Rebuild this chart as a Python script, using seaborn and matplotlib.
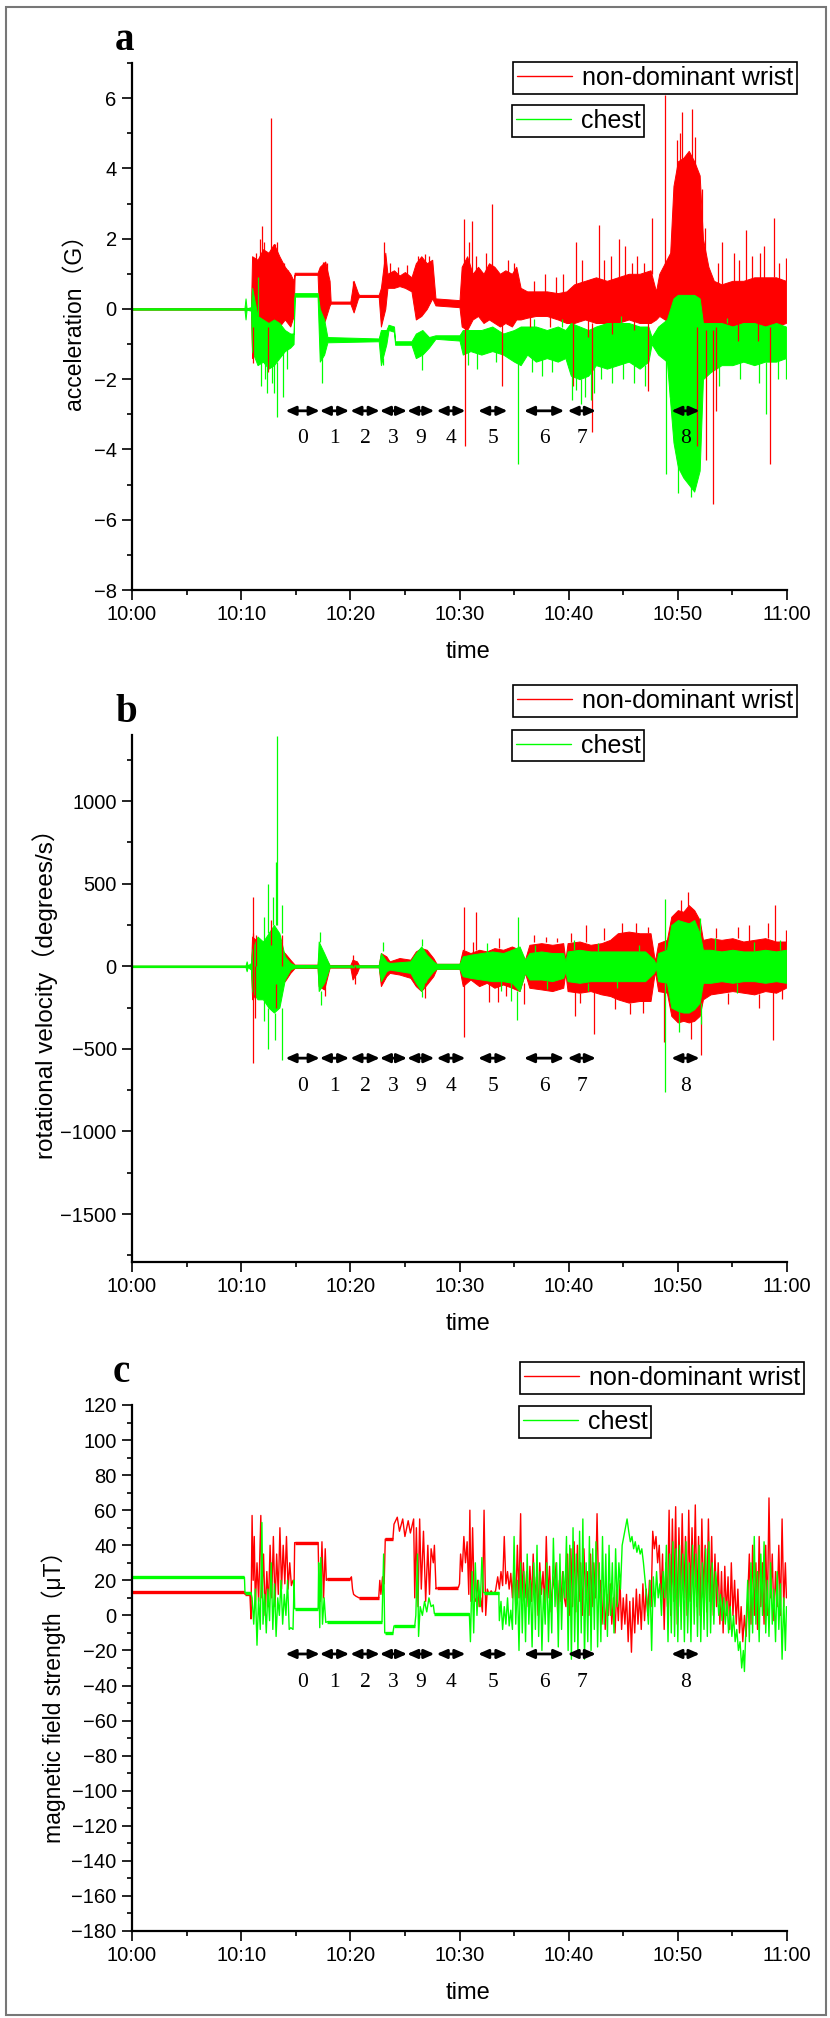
import numpy as np
import seaborn as sns
import matplotlib.pyplot as plt
from matplotlib import font_manager as fm
from matplotlib.lines import Line2D
from matplotlib.patches import Rectangle
from matplotlib.ticker import MultipleLocator

# ---- data (time = minutes after 10:00) ----
tick_minutes = [0, 10, 20, 30, 40, 50, 60]
tick_labels = ["10:00", "10:10", "10:20", "10:30", "10:40", "10:50", "11:00"]

# activity segments shown by the double arrows
seg_start = [14.06, 17.2, 20.0, 22.7, 25.2, 27.9, 31.7, 35.9, 39.9, 49.4]
seg_end = [17.2, 19.9, 22.7, 25.2, 27.7, 30.55, 34.4, 39.6, 42.5, 52.0]
seg_label = ["0", "1", "2", "3", "9", "4", "5", "6", "7", "8"]

# acceleration (G): envelope of the signal (t, upper, lower)
acc_wrist = [
    (0, 0.02, -0.02), (10.9, 0.02, -0.02), (11.0, 1.5, -1.4), (11.5, 1.4, -0.8),
    (12.0, 1.7, -0.4), (12.5, 1.6, -0.6), (13.0, 1.85, -0.7), (13.5, 1.5, -0.5),
    (14.0, 1.2, -0.3), (14.5, 1.0, -0.5), (14.8, 0.8, -0.2), (14.9, 1.03, 0.97),
    (17.0, 1.03, 0.97), (17.2, 1.2, -0.7), (17.7, 1.35, -0.3), (18.1, 0.8, 0.1),
    (18.2, 0.21, 0.15), (20.0, 0.21, 0.15), (20.3, 0.8, -0.1), (20.7, 0.45, 0.3),
    (20.8, 0.40, 0.34), (22.6, 0.40, 0.34), (22.8, 0.6, -0.5), (23.2, 1.6, 0.0),
    (23.4, 1.0, 0.6), (24.0, 1.1, 0.6), (24.5, 0.95, 0.65), (25.0, 1.05, 0.6),
    (25.6, 0.9, 0.5), (26.0, 1.3, -0.3), (26.5, 1.5, -0.2), (27.0, 1.3, 0.0),
    (27.5, 1.4, 0.3), (27.8, 0.3, 0.1), (30.0, 0.25, 0.05), (30.2, 1.2, -0.5),
    (30.7, 1.5, -0.6), (31.2, 1.0, -0.3), (31.7, 1.2, -0.2), (32.2, 1.0, -0.4),
    (32.7, 1.3, -0.3), (33.2, 1.2, -0.4), (33.7, 1.0, -0.5), (34.2, 1.1, -0.4),
    (34.8, 1.0, -0.5), (35.2, 1.2, -0.3), (35.6, 0.6, -0.3), (36.2, 0.5, -0.25),
    (37.0, 0.5, -0.2), (38.0, 0.5, -0.2), (39.0, 0.45, -0.3), (39.8, 0.5, -0.4),
    (40.5, 0.7, -0.4), (41.5, 0.8, -0.3), (42.5, 0.9, -0.4), (43.5, 0.8, -0.4),
    (44.5, 0.9, -0.4), (45.5, 1.0, -0.3), (46.5, 1.0, -0.4), (47.5, 1.1, -0.4),
    (48.0, 0.5, -0.3), (48.3, 1.0, -0.2), (48.8, 1.3, -0.3), (49.3, 1.6, -0.4),
    (49.6, 3.5, -0.3), (50.0, 4.2, -0.4), (50.5, 4.3, -0.5), (51.0, 4.5, -0.5),
    (51.5, 4.2, -0.5), (52.0, 3.8, -0.6), (52.3, 2.0, -0.8), (52.8, 1.2, -0.8),
    (53.3, 0.8, -0.6), (54.0, 0.7, -0.5), (55.0, 0.8, -0.5), (56.0, 0.8, -0.4),
    (57.0, 0.9, -0.5), (58.0, 0.9, -0.5), (59.0, 0.9, -0.5), (59.9, 0.8, -0.4),
]
acc_chest = [
    (0, 0.02, -0.02), (10.3, 0.02, -0.02), (10.4, 0.3, -0.3), (10.5, 0.02, -0.02),
    (10.9, 0.05, -0.05), (11.0, 0.6, -1.2), (11.5, -0.2, -1.6), (12.0, -0.3, -1.5),
    (12.5, -0.4, -1.7), (13.0, -0.3, -1.6), (13.5, -0.4, -1.4), (14.0, -0.6, -1.2),
    (14.5, -0.7, -1.1), (14.8, -0.7, -1.0), (14.9, 0.45, 0.35), (17.0, 0.45, 0.35),
    (17.2, 0.0, -1.5), (17.6, -0.3, -1.3), (17.9, -0.8, -0.95), (22.6, -0.84, -0.92),
    (22.8, -0.6, -1.6), (23.3, -0.6, -1.0), (23.5, -0.45, -0.6), (24.0, -0.5, -0.65),
    (24.1, -0.92, -1.02), (25.6, -0.92, -1.02), (26.0, -0.7, -1.4), (26.6, -0.6, -1.3),
    (27.2, -0.8, -1.1), (27.8, -0.75, -0.85), (30.0, -0.75, -0.9), (30.3, -0.6, -1.3),
    (31.0, -0.6, -1.2), (32.0, -0.6, -1.3), (33.0, -0.5, -1.2), (34.0, -0.7, -1.3),
    (35.0, -0.6, -1.5), (35.6, -0.5, -1.6), (36.2, -0.5, -1.3), (37.0, -0.5, -1.5),
    (38.0, -0.6, -1.4), (39.0, -0.5, -1.5), (39.7, -0.6, -1.4), (40.2, -0.4, -1.9),
    (41.0, -0.5, -2.0), (41.8, -0.6, -1.9), (42.5, -0.5, -1.6), (43.5, -0.4, -1.7),
    (44.5, -0.4, -1.6), (45.5, -0.4, -1.5), (46.5, -0.5, -1.7), (47.3, -0.5, -1.5),
    (47.6, -0.8, -1.0), (48.2, -0.5, -1.3), (49.0, -0.3, -1.5), (49.6, 0.3, -3.8),
    (50.0, 0.4, -4.5), (50.5, 0.4, -4.8), (51.0, 0.4, -5.0), (51.5, 0.4, -5.2),
    (52.0, 0.3, -4.6), (52.3, -0.4, -2.0), (53.0, -0.4, -1.8), (54.0, -0.4, -1.6),
    (55.0, -0.5, -1.6), (56.0, -0.4, -1.5), (57.0, -0.4, -1.6), (58.0, -0.5, -1.5),
    (59.0, -0.4, -1.5), (59.9, -0.5, -1.4),
]
# single spikes sticking out of the envelope (t, from, to)
acc_wrist_spikes = [
    (11.1, -0.5, -1.55), (11.4, 0.8, 1.6), (11.7, 0.9, 2.0), (11.9, 1.0, 2.35),
    (12.1, 0.9, 1.9), (12.5, -0.5, -1.8), (12.7, 1.0, 5.43), (13.1, 1.0, 1.85),
    (13.3, 1.0, 1.9), (13.9, 0.5, 1.3), (14.3, 0.5, 1.1), (17.5, 1.0, 1.35),
    (17.9, 0.5, 1.3), (20.2, 0.3, 0.8), (23.1, 0.5, 1.9), (23.6, 0.8, 1.3),
    (24.4, 0.8, 1.2), (25.2, 0.8, 1.25), (26.2, 0.5, 1.5), (26.8, 0.5, 1.55),
    (27.2, 0.5, 1.5), (30.4, 1.0, 2.55), (30.5, -0.5, -3.9), (30.9, 0.8, 1.9),
    (31.1, 1.0, 2.5), (31.5, 0.8, 1.5), (32.4, 0.8, 1.6), (33.0, 1.0, 3.0),
    (33.9, -0.4, -2.2), (34.4, 0.8, 1.4), (35.0, 0.8, 1.3), (36.5, -0.2, -0.5),
    (36.8, 0.3, 0.8), (37.8, 0.3, 1.0), (38.3, -0.2, -0.5), (38.8, 0.3, 0.9),
    (39.5, 0.3, 1.0), (40.4, -0.4, -2.2), (40.7, 0.7, 1.9), (41.2, 0.5, 1.4),
    (41.8, -0.3, -0.8), (42.1, -0.4, -3.5), (42.8, 0.8, 2.4), (43.2, 0.5, 1.4),
    (43.9, 0.5, 1.5), (44.0, -0.3, -0.7), (44.6, 0.8, 2.0), (45.2, 0.9, 1.8),
    (45.8, 0.5, 1.3), (46.0, -0.3, -0.6), (46.3, 0.5, 1.5), (46.9, 0.5, 1.3),
    (47.3, -0.4, -2.35), (47.6, 1.0, 2.6), (48.8, 1.0, 6.1), (49.9, 3.0, 4.8),
    (50.2, 3.0, 5.0), (50.4, 4.0, 5.6), (51.3, 4.0, 5.7), (51.6, 3.0, 4.9),
    (51.8, -0.5, -3.9), (52.2, 1.5, 3.4), (52.5, 1.0, 2.3), (52.6, -0.6, -4.3),
    (53.2, -0.6, -5.55), (53.5, -0.5, -2.9), (53.7, 0.6, 1.3), (54.0, 0.7, 1.9),
    (55.1, 0.6, 1.6), (55.5, -0.4, -0.9), (55.6, 0.6, 1.4), (56.2, 0.8, 2.25),
    (56.8, 0.6, 1.5), (57.3, -0.4, -0.9), (57.5, 0.6, 1.6), (57.9, 0.6, 1.8),
    (58.4, -0.5, -4.4), (58.8, 0.9, 2.6), (59.3, 0.6, 1.3), (59.9, 0.8, 1.45),
]
acc_chest_spikes = [
    (11.5, -0.2, 0.92), (11.8, -1.5, -2.2), (12.2, -1.4, -2.0), (12.4, -1.5, -2.4),
    (12.8, -1.5, -2.1), (13.0, -1.5, -2.4), (13.3, -1.5, -3.07), (13.8, -1.2, -2.5),
    (14.2, -1.1, -1.7), (17.4, -1.3, -2.1), (23.0, -1.4, -1.6), (26.6, -1.3, -1.75),
    (30.8, -1.2, -1.6), (31.6, -1.2, -1.7), (33.3, -1.1, -1.5), (35.4, -1.3, -4.4),
    (36.6, -1.3, -1.8), (36.8, -0.5, -0.3), (37.6, -1.4, -1.9), (38.5, -1.3, -1.8),
    (39.4, -0.5, -0.3), (40.3, -1.9, -2.6), (40.7, -1.9, -2.3), (41.1, -2.0, -2.7),
    (41.5, -1.9, -2.5), (42.0, -1.8, -2.6), (42.3, -1.6, -2.4), (43.0, -1.6, -2.0),
    (44.0, -1.6, -2.1), (44.8, -0.4, -0.2), (45.0, -1.5, -2.0), (46.0, -1.6, -2.1),
    (47.0, -1.6, -2.2), (48.9, -1.0, -4.7), (49.3, -1.4, -2.5), (50.0, -4.5, -5.25),
    (51.2, -5.0, -5.35), (53.8, -1.6, -2.2), (54.5, -0.4, -0.25), (55.7, -1.5, -2.0),
    (57.4, -1.5, -2.1), (58.1, -1.5, -3.0), (59.2, -1.4, -2.0), (59.9, -1.4, -2.0),
]

# rotational velocity (degrees/s): envelope (t, upper, lower)
gyro_wrist = [
    (0, 3, -3), (10.9, 3, -3), (11.0, 180, -200), (11.5, 150, -150), (12.0, 120, -120),
    (12.5, 140, -130), (13.0, 120, -110), (13.5, 110, -100), (14.0, 80, -90),
    (14.5, 40, -40), (14.9, 10, -10), (17.0, 10, -10), (17.1, 80, -120), (17.6, 60, -140),
    (18.1, 8, -8), (20.0, 8, -8), (20.2, 40, -80), (20.6, 30, -40), (20.8, 6, -6),
    (22.6, 6, -6), (22.8, 80, -120), (23.3, 60, -60), (23.6, 30, -40), (24.5, 50, -50),
    (25.5, 40, -70), (26.0, 90, -120), (26.5, 110, -150), (27.0, 100, -110),
    (27.6, 50, -60), (27.9, 15, -15), (30.0, 15, -15), (30.3, 100, -120), (31.0, 80, -80),
    (31.8, 100, -120), (32.5, 90, -100), (33.2, 110, -130), (34.0, 100, -110),
    (34.8, 120, -130), (35.5, 100, -150), (36.0, 40, -40), (36.4, 130, -130),
    (37.5, 140, -140), (38.5, 130, -150), (39.5, 140, -130), (39.7, 40, -40),
    (39.9, 140, -150), (41.0, 150, -160), (42.0, 130, -150), (43.0, 140, -170),
    (43.8, 160, -180), (44.5, 200, -200), (45.5, 210, -220), (46.5, 200, -210),
    (47.5, 200, -210), (47.9, 30, -30), (48.2, 140, -150), (49.0, 160, -160),
    (49.4, 300, -300), (50.0, 340, -340), (50.5, 330, -330), (51.0, 370, -340),
    (51.5, 340, -330), (52.0, 280, -300), (52.3, 160, -200), (53.0, 170, -170),
    (54.0, 160, -160), (55.0, 170, -150), (56.0, 150, -160), (57.0, 160, -170),
    (58.0, 170, -150), (59.0, 150, -160), (59.9, 150, -130),
]
gyro_chest = [
    (0, 5, -5), (10.4, 5, -5), (10.5, 30, -30), (10.6, 5, -5), (10.9, 20, -20),
    (11.0, 100, -150), (11.5, 180, -200), (12.0, 150, -200), (12.5, 200, -250),
    (13.0, 250, -280), (13.5, 200, -250), (14.0, 60, -80), (14.5, 20, -20),
    (14.9, 8, -8), (17.0, 8, -8), (17.1, 150, -150), (17.6, 80, -100), (18.1, 6, -6),
    (22.6, 6, -6), (22.8, 80, -90), (23.3, 30, -30), (23.6, 20, -20), (25.5, 30, -40),
    (26.0, 80, -100), (26.5, 120, -150), (27.0, 70, -80), (27.6, 30, -30),
    (27.9, 15, -15), (30.0, 15, -15), (30.3, 60, -60), (31.0, 70, -70), (32.0, 80, -80),
    (33.0, 90, -90), (34.0, 80, -90), (34.8, 100, -100), (35.5, 120, -150),
    (36.0, 40, -40), (36.4, 80, -80), (37.5, 90, -80), (38.5, 80, -90), (39.5, 80, -70),
    (39.7, 30, -30), (39.9, 90, -90), (41.0, 100, -100), (42.0, 90, -90),
    (43.0, 90, -90), (44.0, 90, -90), (45.0, 90, -90), (46.0, 90, -90), (47.0, 90, -90),
    (47.8, 40, -40), (48.0, 10, -10), (48.2, 80, -90), (49.0, 100, -100),
    (49.4, 250, -250), (50.0, 280, -270), (50.5, 270, -280), (51.0, 260, -280),
    (51.5, 280, -260), (52.0, 200, -220), (52.3, 100, -100), (53.0, 100, -100),
    (54.0, 90, -90), (55.0, 100, -100), (56.0, 90, -90), (57.0, 90, -90),
    (58.0, 100, -100), (59.0, 90, -90), (59.9, 100, -100),
]
gyro_wrist_spikes = [
    (11.05, -200, 419), (11.1, 200, -588), (11.3, 0, -316), (11.4, 0, 187),
    (12.7, 130, 280), (13.2, -110, -250), (13.7, 0, 190), (17.7, -100, -180),
    (20.2, 0, 66), (20.4, 0, -105), (26.8, -100, -190), (30.4, 100, 359),
    (30.45, -100, -427), (31.2, 80, 150), (31.5, 100, 328), (32.7, -100, -215),
    (33.5, -100, -215), (33.6, 110, 170), (34.3, -110, -180), (35.9, -100, -230),
    (36.8, 150, 190), (37.9, 150, 175), (38.9, 150, 170), (40.2, 150, 200),
    (40.6, -150, -300), (41.0, -160, -220), (41.6, 150, 248), (42.3, -150, -407),
    (43.2, 160, 230), (44.2, -180, -260), (44.9, 200, 260), (45.6, -220, -290),
    (46.2, 200, 260), (46.8, -210, -280), (47.3, 200, 240), (48.7, -150, -460),
    (50.3, 300, 400), (50.9, 300, 450), (51.2, -300, -440), (52.1, -300, -540),
    (53.5, 170, 230), (54.6, -160, -230), (55.5, 170, 240), (56.5, 150, 250),
    (57.4, -170, -250), (58.3, 170, 260), (58.7, -150, -447), (58.9, 150, 369),
    (59.5, -130, -200), (59.9, 150, 220),
]
gyro_chest_spikes = [
    (12.1, 150, 300), (12.1, -200, -330), (12.5, 200, 500), (12.5, -250, -498),
    (12.9, 250, 420), (13.1, -280, -447), (13.2, 250, 631), (13.3, 250, 1396),
    (13.7, 200, 369), (13.7, -250, -568), (17.2, 150, 208), (17.3, -150, -236),
    (23.0, 90, 147), (26.6, 120, 167), (26.6, -150, -185), (32.5, 80, 140),
    (33.8, -90, -150), (34.7, -100, -210), (35.3, -150, -326), (35.4, 100, 298),
    (36.9, 80, 130), (38.0, -90, -140), (40.5, 100, 160), (41.8, -100, -150),
    (42.7, 90, 140), (44.4, -90, -130), (46.4, 90, 130), (48.8, 100, 409),
    (48.8, -100, -760), (50.1, -270, -400), (52.0, 200, 290), (52.1, -220, -350),
    (53.4, 100, 170), (55.4, -100, -160), (57.0, 90, 150), (59.4, 100, 160),
]

# magnetic field strength (uT): traced peaks and troughs (t, value)
mag_wrist = [
    (0, 13.5), (10.3, 13.5), (10.35, 12), (10.8, 12),
    (10.9, -2), (11.0, 57), (11.1, 20), (11.2, 45), (11.3, 5), (11.45, 30), (11.6, 8),
    (11.8, 57), (11.9, 10), (12.05, 35), (12.2, 0), (12.35, 25), (12.5, 5), (12.65, 40),
    (12.8, 10), (12.95, 45), (13.1, 5), (13.25, 35), (13.4, 12), (13.55, 50), (13.7, 15),
    (13.85, 40), (14.0, 18), (14.15, 45), (14.3, 15), (14.45, 30), (14.6, 17),
    (14.75, 20), (14.85, 18),
    (14.9, 41.5), (17.05, 41.5),
    (17.1, 25), (17.25, 8), (17.4, 42), (17.55, 10), (17.7, 38), (17.8, 20),
    (17.9, 20.7), (20.0, 20.7),
    (20.1, 22), (20.2, 15), (20.3, 12), (20.5, 11),
    (20.8, 10), (22.6, 10),
    (22.7, 20), (22.8, 12), (22.95, 22), (23.1, 18),
    (23.2, 43.5), (23.9, 43.5),
    (24.0, 52), (24.3, 56), (24.5, 48), (24.8, 55), (25.0, 45), (25.3, 54), (25.5, 47),
    (25.8, 55), (25.9, 10), (26.05, 50), (26.2, 5), (26.35, 55), (26.5, 15), (26.7, 48),
    (26.9, 8), (27.1, 40), (27.25, 12), (27.4, 38), (27.6, 30), (27.7, 40), (27.85, 15),
    (27.9, 15.5), (29.9, 16),
    (30.0, 18), (30.1, 35), (30.25, 25), (30.4, 45), (30.55, 30), (30.7, 42), (30.85, 12),
    (30.95, 60), (31.05, 8), (31.2, 50), (31.35, 10), (31.5, 8), (31.65, 20), (31.8, 5),
    (31.95, 10), (32.1, 2), (32.25, 60), (32.4, 0), (32.55, 15), (32.7, 12), (32.9, 14),
    (33.1, 12), (33.3, 14), (33.5, 22), (33.65, 15), (33.8, 25), (33.95, 17), (34.1, 45),
    (34.25, 18), (34.4, 25), (34.55, 15), (34.7, 24), (34.85, 10), (35.0, 30),
    (35.15, 5), (35.3, 40), (35.45, 10), (35.6, 58), (35.7, 8), (35.85, 30),
    (36.0, 10), (36.15, 25), (36.3, 5), (36.45, 28), (36.6, 8), (36.75, 35), (36.9, 10),
    (37.05, 22), (37.2, 0), (37.35, 30), (37.5, 12), (37.65, 25), (37.8, 5), (37.95, 45),
    (38.1, 10), (38.25, 28), (38.4, 2), (38.55, 22), (38.7, 15), (38.85, 30), (39.0, 0),
    (39.15, 20), (39.3, 8), (39.45, 25), (39.6, 10), (39.75, 5),
    (39.9, 35), (40.05, 0), (40.2, 38), (40.35, 5), (40.5, 42), (40.65, 2), (40.8, 40),
    (40.95, 8), (41.1, 30), (41.25, 0), (41.4, 38), (41.55, 10), (41.7, 25), (41.85, 0),
    (42.0, 35), (42.15, 5), (42.3, 30), (42.45, 10), (42.6, 58), (42.75, 12),
    (42.9, 20), (43.05, -5), (43.2, 15), (43.35, -8), (43.5, 12), (43.65, 0), (43.8, 18),
    (43.95, -5), (44.1, 10), (44.25, -10), (44.4, 15), (44.55, -3), (44.7, 20),
    (44.85, -8), (45.0, 10), (45.15, -5),
    (45.3, 12), (45.45, -15), (45.6, 8), (45.75, -21), (45.9, 10), (46.05, -10),
    (46.2, 15), (46.35, -5), (46.5, 12), (46.65, -8), (46.8, 18), (46.95, -3), (47.1, 15),
    (47.25, 0), (47.4, 20),
    (47.55, 5), (47.7, 48), (47.85, 38), (48.0, 45), (48.15, 30), (48.3, 40), (48.45, 10),
    (48.6, 35), (48.75, -8), (48.9, 30),
    (49.05, 5), (49.2, 60), (49.35, 0), (49.5, 55), (49.65, 8), (49.8, 62), (49.95, -5),
    (50.1, 50), (50.25, 5), (50.4, 58), (50.55, 10), (50.7, 45), (50.85, 0), (51.0, 60),
    (51.15, 8), (51.3, 50), (51.45, 12), (51.6, 63), (51.75, 5), (51.9, 45), (52.05, 0),
    (52.2, 55), (52.35, 10), (52.5, 40), (52.65, 2), (52.8, 55), (52.95, 8), (53.1, 45),
    (53.25, 0), (53.4, 35), (53.55, 5),
    (53.7, 30), (53.85, -5), (54.0, 25), (54.15, -10), (54.3, 28), (54.45, 0), (54.6, 22),
    (54.75, -8), (54.9, 30), (55.05, 0), (55.2, 20), (55.35, -5), (55.5, 15), (55.65, -10),
    (55.8, 5), (55.95, -15), (56.1, 0), (56.25, -12), (56.4, 10),
    (56.55, 35), (56.7, -5), (56.85, 40), (57.0, 0), (57.15, 30), (57.3, -8), (57.45, 45),
    (57.6, 5), (57.75, 30), (57.9, -5), (58.05, 40), (58.2, 0), (58.35, 67), (58.5, 10),
    (58.65, 35), (58.8, -3), (58.95, 25), (59.1, 5), (59.25, 40), (59.4, 0), (59.55, 55),
    (59.7, 5), (59.85, 30), (59.95, 10),
]
mag_chest = [
    (0, 21.7), (10.3, 21.7), (10.35, 13), (10.9, 13),
    (11.0, 10), (11.15, -5), (11.3, 15), (11.45, -17), (11.6, 10), (11.75, -8),
    (11.9, 53), (12.0, -5), (12.15, 12), (12.3, -10), (12.45, 15), (12.6, -3),
    (12.75, 30), (12.9, -8), (13.05, 18), (13.2, -12), (13.35, 10), (13.5, 0),
    (13.65, 20), (13.8, -5), (13.95, 12), (14.1, 0), (14.25, 20), (14.4, -8),
    (14.55, -7), (14.75, -8), (14.85, 20),
    (14.9, 3.8), (17.05, 3.8),
    (17.1, 30), (17.2, -7), (17.3, 33), (17.45, -5), (17.6, 10), (17.75, -4),
    (17.9, -3.6), (22.9, -3.6),
    (23.05, 35), (23.15, -10),
    (23.2, -10), (23.9, -10),
    (24.0, -6), (25.9, -6),
    (26.0, 0), (26.15, 35), (26.25, -12), (26.4, 5), (26.6, 0), (26.8, 8), (27.0, 2),
    (27.2, 10), (27.4, 5), (27.6, 6),
    (27.7, 1), (30.9, 1),
    (31.0, -15), (31.15, 25), (31.3, -10), (31.45, 30), (31.6, 0), (31.75, 20),
    (31.9, 5), (32.05, 33),
    (32.2, 13), (33.6, 13),
    (33.65, -3), (33.8, 8), (33.95, -8), (34.1, 5), (34.25, -5), (34.4, 10), (34.55, -6),
    (34.7, 3), (34.85, -8), (35.0, 45),
    (35.15, -5), (35.3, 20), (35.45, -20), (35.6, 30), (35.75, -10), (35.9, 25),
    (36.05, -15), (36.2, 35), (36.35, -5), (36.5, 20), (36.65, -18), (36.8, 30),
    (36.95, -8), (37.1, 40), (37.25, -12), (37.4, 25), (37.55, -20), (37.7, 15),
    (37.85, -5), (38.0, 30), (38.15, -15), (38.3, 20), (38.45, -10), (38.6, 44),
    (38.75, 5), (38.9, 30), (39.05, -18), (39.2, 35), (39.35, -8), (39.5, 25), (39.65, 10),
    (39.8, 45), (39.95, -20), (40.1, 40), (40.25, -25), (40.4, 50), (40.55, -15),
    (40.7, 35), (40.85, -22), (41.0, 48), (41.15, -10), (41.3, 55), (41.45, -25),
    (41.6, 30), (41.75, -15), (41.9, 45), (42.05, -20), (42.2, 38), (42.35, -8),
    (42.5, 42), (42.65, -18),
    (42.8, 30), (42.95, -15), (43.1, 45), (43.25, -5), (43.4, 35), (43.55, -12),
    (43.7, 40), (43.85, 0), (44.0, 30), (44.15, -10), (44.3, 38), (44.45, 5), (44.6, 30),
    (44.75, 15), (44.9, 40),
    (45.05, 45), (45.2, 50), (45.35, 55), (45.5, 48), (45.65, 42), (45.8, 45),
    (45.95, 38), (46.1, 42), (46.25, 36), (46.4, 40), (46.55, 35), (46.7, 38),
    (46.85, 30), (47.0, 20), (47.15, 10),
    (47.3, -5), (47.45, 20), (47.6, -20), (47.75, 22), (47.9, 5), (48.05, 25), (48.2, 10),
    (48.35, 18), (48.5, 0), (48.65, 25), (48.8, 10),
    (48.95, 40), (49.1, -15), (49.25, 35), (49.4, -10), (49.55, 42), (49.7, -12),
    (49.85, 38), (50.0, -15), (50.15, 40), (50.3, -8), (50.45, 35), (50.6, -15),
    (50.75, 42), (50.9, -10), (51.05, 30), (51.2, -15), (51.35, 40), (51.5, -5),
    (51.65, 35), (51.8, -12), (51.95, 40), (52.1, -15), (52.25, 30), (52.4, -8),
    (52.55, 38), (52.7, -12), (52.85, 42), (53.0, -10), (53.15, 30), (53.3, -5),
    (53.45, 25),
    (53.6, 15), (53.75, 0), (53.9, 12), (54.05, -3), (54.2, 10), (54.35, -5), (54.5, 8),
    (54.65, -10), (54.8, 5), (54.95, -12), (55.1, 0), (55.25, -15), (55.4, -8),
    (55.55, -20), (55.7, -15), (55.85, -30), (56.0, -20), (56.1, -32),
    (56.25, -5), (56.4, 20), (56.55, -15), (56.7, 30), (56.85, -10), (57.0, 45),
    (57.15, -5), (57.3, 25), (57.45, -15), (57.6, 35), (57.75, 0), (57.9, 42),
    (58.05, -10), (58.2, 20), (58.35, -12), (58.5, 30), (58.65, -5), (58.8, 15),
    (58.95, -15), (59.1, 25), (59.25, -8), (59.4, 18), (59.55, -25), (59.7, 10),
    (59.85, -20), (59.95, 5),
]
# quiet stretches of the magnetometer (t_start, t_end, level)
mag_wrist_flat = [(0, 10.3, 13.5), (10.35, 10.8, 12), (14.9, 17.05, 41.5),
                  (17.9, 20.0, 20.7), (20.8, 22.6, 10), (23.2, 23.9, 43.5),
                  (27.9, 29.9, 15.7)]
mag_chest_flat = [(0, 10.3, 21.7), (10.35, 10.9, 13), (14.9, 17.05, 3.8),
                  (17.9, 22.9, -3.6), (23.2, 23.9, -10), (24.0, 25.9, -6),
                  (27.7, 30.9, 1), (32.2, 33.6, 13)]

RED = "#ff0000"
GREEN = "#00ff00"
SERIF = ["Liberation Serif", "DejaVu Serif"]


def has_font(name):
    try:
        fm.findfont(fm.FontProperties(family=name), fallback_to_default=False)
        return True
    except ValueError:
        return False


# tick labels in the original are set in a condensed face
if has_font("Liberation Sans Narrow"):
    TICK_FONT, TICK_SIZE = ["Liberation Sans Narrow", "DejaVu Sans"], 17
else:
    TICK_FONT, TICK_SIZE = ["Liberation Sans", "DejaVu Sans"], 14.5

sns.set_theme(style="ticks")
plt.rcParams["font.family"] = ["Liberation Sans", "Noto Sans CJK JP", "DejaVu Sans"]
for k in ("text.color", "axes.labelcolor", "xtick.color", "ytick.color", "axes.edgecolor"):
    plt.rcParams[k] = "black"

W, H = 830, 2018
fig = plt.figure(figsize=(W / 100, H / 100), dpi=100)
fig.patch.set_facecolor("white")


def px_axes(l, t, r, b):
    return fig.add_axes([l / W, 1 - b / H, (r - l) / W, (b - t) / H])


def draw_band(ax, rows, color):
    t, hi, lo = (np.array(c, dtype=float) for c in zip(*rows))
    ax.fill_between(t, lo, hi, color=color, edgecolor=color, lw=0.7, zorder=2)


def draw_spikes(ax, rows, color):
    t, a, b = zip(*rows)
    ax.vlines(t, a, b, color=color, lw=0.9, zorder=3)


def draw_trace(ax, rows, flats, color):
    t, v = zip(*rows)
    sns.lineplot(x=list(t), y=list(v), sort=False, estimator=None, color=color,
                 lw=1.0, ax=ax, zorder=2)
    s, e, lev = zip(*flats)
    ax.hlines(lev, s, e, color=color, lw=2.4, zorder=2)


def style(ax, ylim, major, minor, ylabel, ylab_size, ylab_xy, arrow_y, num_y):
    ax.set_xlim(0, 60)
    ax.set_ylim(*ylim)
    ax.set_xticks(tick_minutes)
    ax.set_xticklabels(tick_labels)
    ax.xaxis.set_minor_locator(MultipleLocator(5))
    ax.yaxis.set_major_locator(MultipleLocator(major))
    ax.yaxis.set_minor_locator(MultipleLocator(minor))
    ax.grid(False)
    ax.set_facecolor("white")
    sns.despine(ax=ax)
    for s in ("left", "bottom"):
        ax.spines[s].set_linewidth(1.6)
        ax.spines[s].set_color("black")
    ax.tick_params(which="major", direction="out", length=7, width=1.2,
                   labelsize=TICK_SIZE, pad=4)
    ax.tick_params(which="minor", direction="out", length=3.5, width=1.2)
    for lab in ax.get_xticklabels() + ax.get_yticklabels():
        lab.set_fontfamily(TICK_FONT)
    ax.set_xlabel("time", fontsize=17, va="center")
    ax.xaxis.set_label_coords(0.513, -0.118)
    ax.set_ylabel(ylabel, fontsize=ylab_size, va="center", ha="center")
    ax.yaxis.set_label_coords(*ylab_xy)
    for s0, e0, lab in zip(seg_start, seg_end, seg_label):
        ax.annotate("", xy=(e0, arrow_y), xytext=(s0, arrow_y), zorder=6,
                    arrowprops=dict(arrowstyle="<|-|>,head_length=0.5,head_width=0.22",
                                    color="black", lw=2.0, shrinkA=0, shrinkB=0,
                                    mutation_scale=12))
        ax.text((s0 + e0) / 2, num_y, lab, ha="center", va="center", fontsize=15.5,
                family=SERIF, zorder=6)


def add_legends(ax, p1, p2):
    kw = dict(loc="upper left", bbox_transform=fig.transFigure, borderaxespad=0,
              fontsize=18, handlelength=2.2, handletextpad=0.4, borderpad=0.15,
              fancybox=False, framealpha=1, edgecolor="black")
    leg1 = ax.legend([Line2D([], [], color=RED, lw=1)], ["non-dominant wrist"],
                     bbox_to_anchor=(p1[0] / W, 1 - p1[1] / H), **kw)
    leg1.get_frame().set_linewidth(1.2)
    leg1.set_zorder(8)
    ax.add_artist(leg1)
    leg2 = ax.legend([Line2D([], [], color=GREEN, lw=1)], ["chest"],
                     bbox_to_anchor=(p2[0] / W, 1 - p2[1] / H), **kw)
    leg2.get_frame().set_linewidth(1.2)
    leg2.set_zorder(8)


# --- a: acceleration ---
ax_a = px_axes(132, 63, 787, 590)
draw_band(ax_a, acc_wrist, RED)
draw_band(ax_a, acc_chest, GREEN)
draw_spikes(ax_a, acc_wrist_spikes, RED)
draw_spikes(ax_a, acc_chest_spikes, GREEN)
style(ax_a, (-8, 7), 2, 1, "acceleration（G）", 16.5, (-0.0885, 0.52), -2.9, -3.7)
add_legends(ax_a, (513, 62), (512, 105))

# --- b: rotational velocity ---
ax_b = px_axes(132, 735, 787, 1262)
draw_band(ax_b, gyro_wrist, RED)
draw_band(ax_b, gyro_chest, GREEN)
draw_spikes(ax_b, gyro_wrist_spikes, RED)
draw_spikes(ax_b, gyro_chest_spikes, GREEN)
style(ax_b, (-1790, 1400), 500, 250, "rotational velocity（degrees/s）", 17.5,
      (-0.133, 0.52), -556, -730)
add_legends(ax_b, (513, 685), (512, 730))

# --- c: magnetic field ---
ax_c = px_axes(132, 1405, 787, 1931)
draw_trace(ax_c, mag_wrist, mag_wrist_flat, RED)
draw_trace(ax_c, mag_chest, mag_chest_flat, GREEN)
style(ax_c, (-180, 120), 20, 10, "magnetic field strength（μT）", 16.5,
      (-0.12, 0.456), -22, -38.5)
add_legends(ax_c, (520, 1362), (519, 1406))

# panel letters
for lab, x, y in (("a", 124, 41), ("b", 126, 713), ("c", 121, 1372)):
    fig.text(x / W, 1 - y / H, lab, fontsize=28, fontweight="bold", family=SERIF,
             ha="center", va="center")

# outer frame of the figure
fig.add_artist(Rectangle((6 / W, 3 / H), 820 / W, 2008.5 / H, transform=fig.transFigure,
                         fill=False, edgecolor="#777777", lw=1.5))

fig.savefig("out.png", dpi=100)
